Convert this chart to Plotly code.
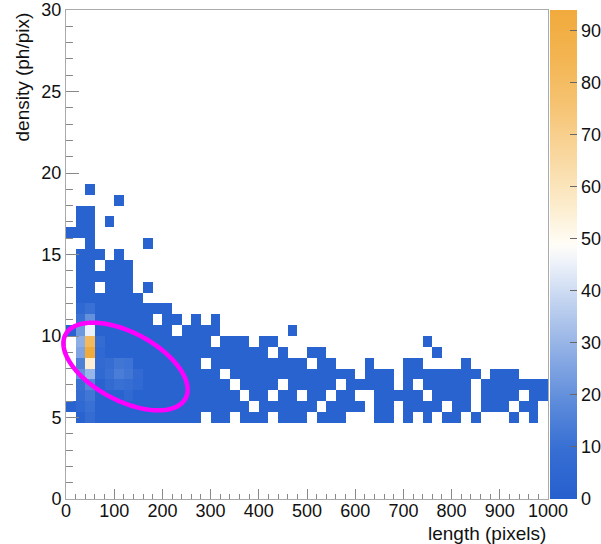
import numpy as np
import plotly.graph_objects as go

# ---------------- data ----------------
X_RANGE = (0, 1000)
Y_RANGE = (0, 30)
NX = 50          # 20-pixel bins in length
NY = 45          # 2/3 ph/pix bins in density

# occupied x-bin index ranges for every density bin row (low-count bins)
ROW_CELLS = {
    28: [(2, 2)],
    27: [(5, 5)],
    26: [(1, 2)],
    25: [(1, 2), (4, 4)],
    24: [(0, 2)],
    23: [(2, 2), (8, 8)],
    22: [(1, 3), (5, 5)],
    21: [(1, 2), (4, 6)],
    20: [(1, 6)],
    19: [(1, 2), (4, 6), (8, 8)],
    18: [(1, 7)],
    17: [(1, 10)],
    16: [(1, 8), (10, 11), (13, 13), (15, 15)],
    15: [(0, 10), (12, 15), (23, 23)],
    14: [(1, 14), (16, 18), (20, 21), (37, 37)],
    13: [(1, 20), (22, 22), (25, 26), (38, 38)],
    12: [(1, 13), (15, 24), (26, 27), (31, 31), (35, 36), (41, 41)],
    11: [(1, 15), (17, 29), (31, 33), (35, 42), (44, 46)],
    10: [(1, 16), (18, 21), (23, 27), (29, 33), (35, 35), (37, 41), (43, 49)],
    9:  [(1, 17), (19, 20), (22, 23), (25, 26), (28, 29), (32, 36), (38, 41), (43, 46), (48, 49)],
    8:  [(0, 18), (20, 25), (27, 30), (32, 33), (35, 38), (40, 41), (43, 45), (47, 48)],
    7:  [(1, 13), (15, 16), (18, 20), (22, 24), (26, 28), (32, 33), (35, 35), (37, 37),
         (39, 40), (42, 42), (46, 46), (48, 48)],
}
BASE_COUNT = 2

# higher-count bins (x-bin index, y-bin index, entries)
HOT_XBIN = [1, 1, 1, 1, 1, 1, 1, 1, 1, 1,
            2, 2, 2, 2, 2, 2, 2, 2, 2, 2, 2,
            3, 3, 3, 3, 4, 4, 4, 5, 5, 5, 6, 6, 6, 6, 7, 7]
HOT_YBIN = [17, 16, 15, 14, 13, 12, 11, 10, 9, 8,
            17, 16, 15, 14, 13, 12, 11, 10, 9, 8, 7,
            14, 13, 12, 11, 12, 11, 10, 12, 11, 10, 12, 11, 10, 9, 11, 10]
HOT_COUNT = [6, 10, 22, 28, 25, 15, 20, 10, 8, 6,
             10, 20, 45, 82, 94, 55, 30, 17, 12, 10, 8,
             8, 6, 7, 6, 9, 10, 7, 12, 14, 10, 11, 12, 9, 6, 7, 6]

CBAR_TICKS = [0, 10, 20, 30, 40, 50, 60, 70, 80, 90]
X_TICKS = list(range(0, 1001, 100))
Y_TICKS = [0, 5, 10, 15, 20, 25, 30]

# ---------------- build histogram ----------------
dx = (X_RANGE[1] - X_RANGE[0]) / NX
dy = (Y_RANGE[1] - Y_RANGE[0]) / NY
xc = [X_RANGE[0] + dx * (i + 0.5) for i in range(NX)]
yc = [Y_RANGE[0] + dy * (j + 0.5) for j in range(NY)]

z = [[None] * NX for _ in range(NY)]
for j, ranges in ROW_CELLS.items():
    for a, b in ranges:
        for i in range(a, b + 1):
            z[j][i] = BASE_COUNT
for i, j, n in zip(HOT_XBIN, HOT_YBIN, HOT_COUNT):
    z[j][i] = n
zmax = max(HOT_COUNT)

colorscale = [
    [0.00, "rgb(38,96,206)"],
    [0.10, "rgb(54,110,211)"],
    [0.20, "rgb(94,140,219)"],
    [0.30, "rgb(142,174,229)"],
    [0.40, "rgb(192,210,239)"],
    [0.48, "rgb(236,241,250)"],
    [0.52, "rgb(255,253,247)"],
    [0.60, "rgb(252,236,204)"],
    [0.70, "rgb(249,216,160)"],
    [0.80, "rgb(246,196,116)"],
    [0.90, "rgb(243,181,82)"],
    [1.00, "rgb(241,170,60)"],
]

FONT = "Liberation Sans, Arial, Helvetica, sans-serif"
W, H = 601, 544
ML, MR, MT, MB = 66, 53, 10, 45
PW = W - ML - MR
PH = H - MT - MB

fig = go.Figure()
fig.add_trace(go.Heatmap(
    x=xc, y=yc, z=z, zmin=0, zmax=zmax,
    colorscale=colorscale, hoverongaps=False,
    colorbar=dict(
        x=1 + 2 / PW, xanchor="left", xpad=0,
        y=0, yanchor="bottom", len=1, lenmode="fraction", ypad=0,
        thickness=27, thicknessmode="pixels", outlinewidth=0,
        tickmode="array", tickvals=CBAR_TICKS,
        ticks="inside", ticklen=7, tickcolor="#666", tickwidth=1,
        tickfont=dict(family=FONT, size=18, color="#111"),
    ),
))

axis_common = dict(
    showgrid=False, zeroline=False, showline=True, linecolor="#aaaaaa",
    linewidth=1, mirror=True, ticks="inside", tickcolor="#888888",
    tickfont=dict(family=FONT, size=18, color="#111"),
)
fig.update_xaxes(range=list(X_RANGE), tickmode="array", tickvals=X_TICKS,
                 ticklen=10, ticklabelstandoff=-5,
                 minor=dict(dtick=20, ticks="inside", ticklen=5,
                            tickcolor="#888888"),
                 **axis_common)
fig.update_yaxes(range=list(Y_RANGE), tickmode="array", tickvals=Y_TICKS,
                 ticklen=13, minor=dict(dtick=1, ticks="inside", ticklen=7,
                                        tickcolor="#888888"),
                 **axis_common)

# ---------------- ellipse annotation (drawn in pixel geometry) ----------------
cx, cy, a, b, th = 125.5, 366.5, 68, 34, np.deg2rad(28)
t = np.linspace(0, 2 * np.pi, 120)
px = cx + a * np.cos(t) * np.cos(th) - b * np.sin(t) * np.sin(th)
py = cy + a * np.cos(t) * np.sin(th) + b * np.sin(t) * np.cos(th)
xp = (px - ML) / PW
yp = (H - MB - py) / PH
path = "M " + " L ".join(f"{u:.5f},{v:.5f}" for u, v in zip(xp, yp)) + " Z"
fig.add_shape(type="path", path=path, xref="paper", yref="paper",
              line=dict(color="#ff00ff", width=4.5), layer="above")

fig.update_layout(
    width=W, height=H,
    margin=dict(l=ML, r=MR, t=MT, b=MB, autoexpand=False),
    paper_bgcolor="white", plot_bgcolor="white",
    font=dict(family=FONT, size=18, color="#111"),
    annotations=[
        dict(text="length (pixels)", xref="paper", yref="paper",
             x=1.0, y=(H - MB - 533) / PH, xanchor="right", yanchor="middle",
             showarrow=False, font=dict(family=FONT, size=19, color="#111")),
        dict(text="density (ph/pix)", xref="paper", yref="paper",
             x=(22 - ML) / PW, y=(H - MB - 11) / PH, xanchor="center", yanchor="top",
             textangle=-90, showarrow=False,
             font=dict(family=FONT, size=19, color="#111")),
    ],
)

fig.write_html("out.html")
